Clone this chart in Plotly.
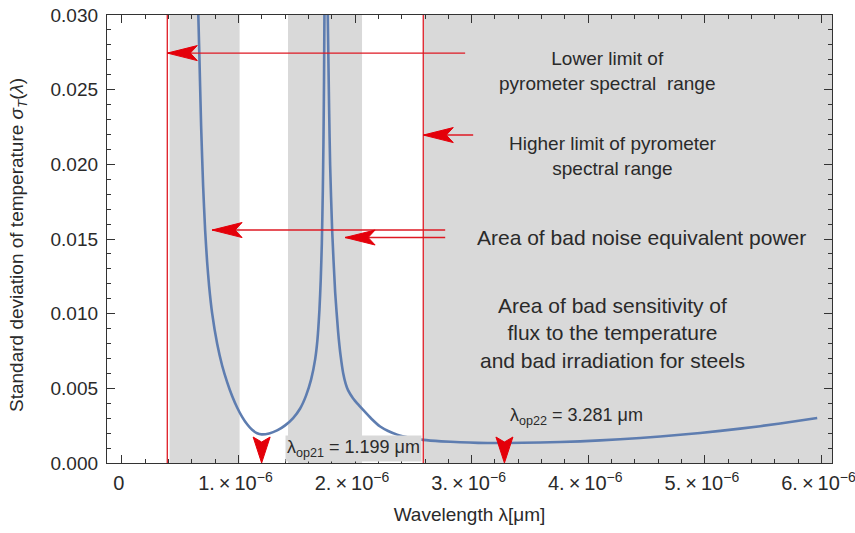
import plotly.graph_objects as go

# ---------------- data (wavelength in micrometres) ----------------
wl_branch1 = [0.6561, 0.6630, 0.6801, 0.6973, 0.7144, 0.7316, 0.7487, 0.7744, 0.8173, 0.8602,
              0.9031, 0.9460, 0.9889, 1.0317, 1.0746, 1.1175, 1.1604, 1.199, 1.2633, 1.3319,
              1.4005, 1.4691, 1.5292, 1.5806, 1.6235, 1.6578, 1.6775, 1.6947, 1.7058, 1.7153,
              1.7238, 1.7290, 1.7341, 1.7376]
sigma_branch1 = [0.03000, 0.02792, 0.02257, 0.01855, 0.01560, 0.01346, 0.01185, 0.01004, 0.00800, 0.00653,
                 0.00542, 0.00449, 0.00372, 0.00309, 0.00259, 0.00222, 0.00199, 0.00192, 0.00198, 0.00218,
                 0.00252, 0.00301, 0.00365, 0.00453, 0.00560, 0.00694, 0.00824, 0.01025, 0.01225, 0.01471,
                 0.01828, 0.02141, 0.02565, 0.03000]
wl_branch2 = [1.7659, 1.7779, 1.7864, 1.8036, 1.8293, 1.8551, 1.8765, 1.8979, 1.9194, 1.9408,
              1.9837, 2.0266, 2.0695, 2.1381, 2.2153, 2.2839, 2.3611, 2.4726, 2.5841, 2.7385,
              2.9014, 3.0558, 3.2187, 3.281, 3.5875, 3.9305, 4.2736, 4.6166, 4.9597, 5.3028,
              5.6458, 5.9631]
sigma_branch2 = [0.03000, 0.02364, 0.01995, 0.01560, 0.01145, 0.00877, 0.00717, 0.00603, 0.00532, 0.00486,
                 0.00432, 0.00392, 0.00355, 0.00298, 0.00244, 0.00214, 0.00190, 0.00169, 0.00155, 0.00145,
                 0.00139, 0.00135, 0.00134, 0.00134, 0.00137, 0.00145, 0.00159, 0.00177, 0.00201, 0.00230,
                 0.00264, 0.00301]

lower_limit = 0.39      # lower limit of pyrometer spectral range
upper_limit = 2.585     # higher limit of pyrometer spectral range
gray_bands = [(0.41, 1.01), (1.425, 2.06), (2.59, 6.09)]
lambda_op = [1.199, 3.281]
lambda_labels = ["λ<sub>op21</sub> = 1.199 μm", "λ<sub>op22</sub> = 3.281 μm"]

arrow_y = [0.02745, 0.02196, 0.0156, 0.0151]
arrow_tail = [2.944, 3.013, 2.773, 2.773]
arrow_tip = [lower_limit, upper_limit, 0.774, 1.915]

x_tick_vals = [0, 1, 2, 3, 4, 5, 6]
x_tick_text = ["0"] + [f"{v}.\u2009×\u200910<sup>−6</sup>" for v in range(1, 7)]
y_tick_vals = [0.000, 0.005, 0.010, 0.015, 0.020, 0.025, 0.030]
y_tick_text = ["0.000", "0.005", "0.010", "0.015", "0.020", "0.025", "0.030"]

XR = [-0.127, 6.09]
YR = [0, 0.030]

FONT = "Liberation Sans, Arial, sans-serif"
TXT = "#2a2a2a"
RED_LINE = "rgb(222,25,35)"
RED_HEAD = "rgb(228,0,10)"
GRAY = "rgb(217,217,217)"

fig = go.Figure()
fig.add_trace(go.Scatter(
    x=wl_branch1 + [None] + wl_branch2,
    y=sigma_branch1 + [None] + sigma_branch2,
    mode="lines",
    line=dict(color="rgb(94,125,176)", width=2.6, shape="spline", smoothing=0.5),
    connectgaps=False, showlegend=False, hoverinfo="skip"))

shapes = []
for a, b in gray_bands:
    shapes.append(dict(type="rect", xref="x", yref="y", x0=a, x1=b, y0=YR[0], y1=YR[1],
                       fillcolor=GRAY, line=dict(width=0), layer="below"))
for xv in (lower_limit, upper_limit):
    shapes.append(dict(type="line", xref="x", yref="y", x0=xv, x1=xv, y0=YR[0], y1=YR[1],
                       line=dict(color=RED_LINE, width=1.3)))
L, W, N = 30, 7.5, 23
for y, t0, t1 in zip(arrow_y, arrow_tail, arrow_tip):
    shapes.append(dict(type="line", xref="x", yref="y", x0=t0, x1=t1, y0=y, y1=y,
                       line=dict(color=RED_LINE, width=1.4)))
    shapes.append(dict(type="path", xref="x", yref="y", xsizemode="pixel", ysizemode="pixel",
                       xanchor=t1, yanchor=y,
                       path=f"M0,0 L{L},{W} L{N},0 L{L},{-W} Z",
                       fillcolor=RED_HEAD, line=dict(color=RED_HEAD, width=1)))
for lv in lambda_op:
    shapes.append(dict(type="path", xref="x", yref="y", xsizemode="pixel", ysizemode="pixel",
                       xanchor=lv, yanchor=0,
                       path="M0,0 L-8.5,26 L0,21 L8.5,26 Z",
                       fillcolor=RED_HEAD, line=dict(color=RED_HEAD, width=1)))

annotations = [
    dict(x=4.162, y=0.02628, text="Lower limit of<br>pyrometer spectral  range", font=dict(size=19)),
    dict(x=4.214, y=0.02056, text="Higher limit of pyrometer<br>spectral range", font=dict(size=19)),
    dict(x=4.458, y=0.01507, text="Area of bad noise equivalent power", font=dict(size=21)),
    dict(x=4.206, y=0.0087, text="Area of bad sensitivity of<br>flux to the temperature<br>and bad irradiation for steels",
         font=dict(size=21)),
    dict(x=lambda_op[0], y=0, text=lambda_labels[0], xanchor="left", yanchor="bottom",
         xshift=23, yshift=1, bgcolor=GRAY, borderpad=1, font=dict(size=18)),
    dict(x=lambda_op[1], y=0, text=lambda_labels[1], xanchor="left", yanchor="bottom",
         xshift=4, yshift=33, font=dict(size=18)),
    dict(xref="paper", yref="paper", x=0, y=0.5, xshift=-89, yshift=-6, textangle=-90,
         xanchor="center", yanchor="middle",
         text="Standard deviation of temperature <i>σ<sub>T</sub></i>(<i>λ</i>)", font=dict(size=19)),
]
for a in annotations:
    a.setdefault("xref", "x")
    a.setdefault("yref", "y")
    a.setdefault("showarrow", False)
    a["font"].update(family=FONT, color=TXT)
    a.setdefault("align", "center")

axis_common = dict(showline=True, linecolor="#333", linewidth=1.3, mirror="ticks",
                   ticks="inside", ticklen=8, tickwidth=1.3, tickcolor="#333",
                   showgrid=False, zeroline=False, ticklabeloverflow="allow")

fig.update_xaxes(range=XR, tickmode="array", tickvals=x_tick_vals, ticktext=x_tick_text,
                 tickfont=dict(family=FONT, size=20, color=TXT), ticklabelshift=-3,
                 minor=dict(ticks="inside", ticklen=4, dtick=0.2, tick0=0, tickwidth=1.2, tickcolor="#333"),
                 title=dict(text="Wavelength λ[μm]", font=dict(family=FONT, size=19, color=TXT), standoff=14),
                 ticklabelstandoff=2, **axis_common)
fig.update_yaxes(range=YR, tickmode="array", tickvals=y_tick_vals, ticktext=y_tick_text,
                 tickfont=dict(family=FONT, size=19, color=TXT),
                 minor=dict(ticks="inside", ticklen=4, dtick=0.001, tick0=0, tickwidth=1.2, tickcolor="#333"),
                 ticklabelstandoff=4, **axis_common)

fig.update_layout(width=855, height=533, margin=dict(l=107, r=23, t=15, b=70, autoexpand=False),
                  plot_bgcolor="white", paper_bgcolor="white",
                  shapes=shapes, annotations=annotations)

fig.write_html("out.html", config={"displayModeBar": False},
               post_script="document.body.style.margin='0';")
